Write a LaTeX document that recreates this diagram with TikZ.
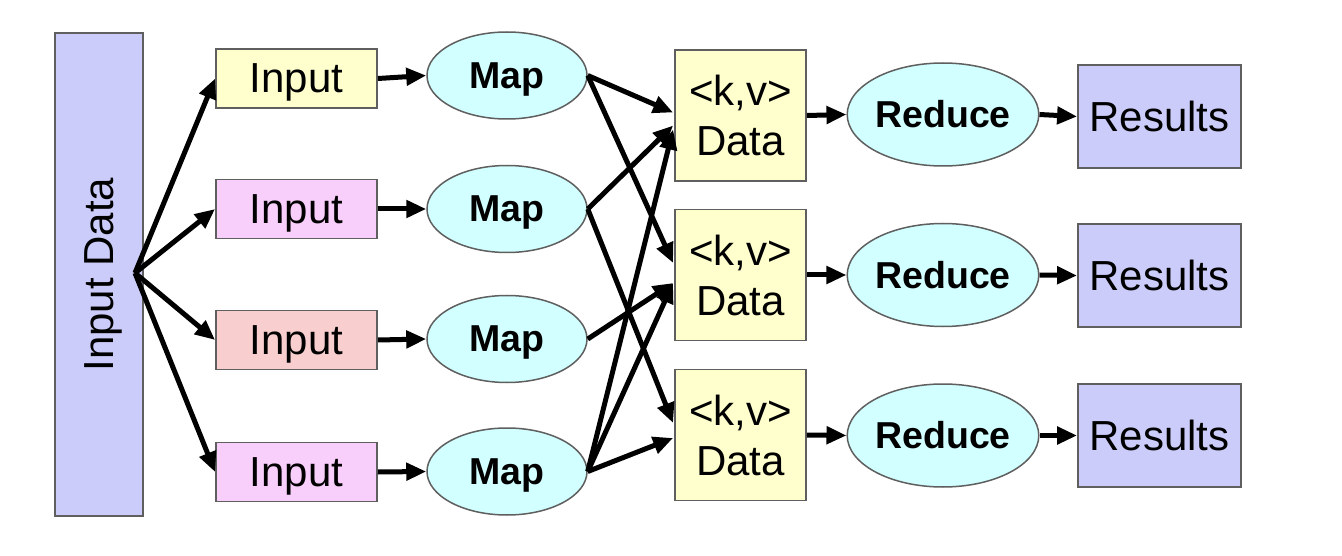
\documentclass[tikz,border=0pt]{standalone}
\usepackage{fontspec}
\setmainfont{Liberation Sans}
\usetikzlibrary{shapes.geometric,arrows.meta,calc}
\definecolor{lav}{RGB}{204,204,250}
\definecolor{inyel}{RGB}{255,255,206}
\definecolor{inpink}{RGB}{248,206,250}
\definecolor{insalmon}{RGB}{248,206,206}
\definecolor{mapcyan}{RGB}{210,255,255}
\definecolor{bordergray}{RGB}{95,95,95}
\begin{document}
\begin{tikzpicture}[x=1pt,y=-1pt,
  box/.style={draw=bordergray,line width=1.8pt,inner sep=0pt,align=center,
    font=\fontsize{42}{50}\selectfont},
  oval/.style={ellipse,draw=bordergray,line width=1.5pt,fill=mapcyan,inner sep=0pt,
    font=\bfseries\fontsize{37.5}{45}\selectfont},
  inbox/.style={box,minimum width=161pt,minimum height=59pt,text depth=0pt},
  mapnode/.style={oval,minimum width=160pt,minimum height=87pt,text depth=0pt},
  datanode/.style={box,fill=inyel,minimum width=131pt,minimum height=131pt},
  rednode/.style={oval,minimum width=160pt,minimum height=103pt},
  resnode/.style={box,fill=lav,minimum width=163pt,minimum height=103pt},
  arr/.style={line width=5pt,-{Triangle[length=20pt,width=17pt]}}]
\useasboundingbox (0,0) rectangle (1342,556);
\fill[white] (0,0) rectangle (1342,556);
% input data
\node[box,fill=lav,rotate=90,minimum width=483pt,minimum height=88pt,text depth=0pt] (indata) at (99,274.5) {Input Data};
\coordinate (fan) at (135,273);
% inputs
\node[inbox,fill=inyel] (in1) at (296.5,78.5) {Input};
\node[inbox,fill=inpink] (in2) at (296.5,209) {Input};
\node[inbox,fill=insalmon] (in3) at (296.5,340) {Input};
\node[inbox,fill=inpink] (in4) at (296.5,472) {Input};
% maps
\node[mapnode] (m1) at (507,75.5) {Map};
\node[mapnode] (m2) at (507,209) {Map};
\node[mapnode] (m3) at (507,339) {Map};
\node[mapnode] (m4) at (507,471.5) {Map};
% data
\node[datanode] (d1) at (740.5,115.5) {\raisebox{-3pt}{<k,v>}\\\raisebox{-3pt}{Data}};
\node[datanode] (d2) at (740.5,275) {\raisebox{-3pt}{<k,v>}\\\raisebox{-3pt}{Data}};
\node[datanode] (d3) at (740.5,435) {\raisebox{-3pt}{<k,v>}\\\raisebox{-3pt}{Data}};
% reduce
\node[rednode] (r1) at (943,114.5) {Reduce};
\node[rednode] (r2) at (943,275) {Reduce};
\node[rednode] (r3) at (943,435.5) {Reduce};
% results
\node[resnode] (s1) at (1159.5,116.5) {Results};
\node[resnode] (s2) at (1159.5,275.5) {Results};
\node[resnode] (s3) at (1159.5,435.5) {Results};
% arrows
\foreach \i in {1,2,3,4} {
  \draw[arr] (fan) -- (in\i.west);
  \draw[arr] (in\i.east) -- (m\i.west);
}
\foreach \i in {1,2,3} {
  \draw[arr] (d\i.east) -- (r\i.west);
  \draw[arr] (r\i.east) -- (s\i.west);
}
\draw[arr] (m1.east) -- ($(d1.west)+(-1,-3)$);
\draw[arr] (m1.east) -- ($(d2.west)+(-1,-12)$);
\draw[arr] (m2.east) -- ($(d1.west)+(-1,10)$);
\draw[arr] (m2.east) -- ($(d3.west)+(-1,-12)$);
\draw[arr] (m3.east) -- ($(d2.west)+(-1,8)$);
\draw[arr] (m4.east) -- ($(d1.west)+(-1,14)$);
\draw[arr] (m4.east) -- ($(d2.west)+(-1,8)$);
\draw[arr] (m4.east) -- ($(d3.west)+(-1,3)$);
\end{tikzpicture}
\end{document}
